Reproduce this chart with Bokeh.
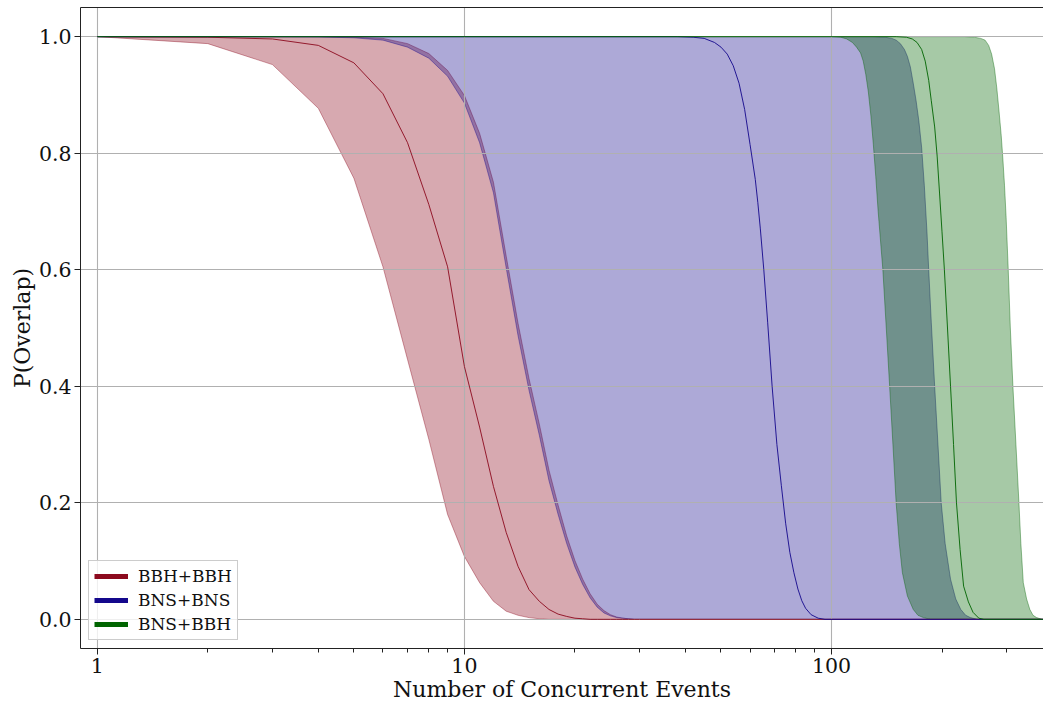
from bokeh.plotting import figure
from bokeh.models import (Range1d, FixedTicker, PrintfTickFormatter, LinearAxis,
                          Legend, LegendItem, ColumnDataSource)
from bokeh.embed import file_html
from bokeh.resources import INLINE

# ---- data -------------------------------------------------------------
# BBH+BBH (integer number of events)
bbh_x = list(range(1, 31)) + [400]
bbh_lo = [1.0, 0.988, 0.952, 0.877, 0.757, 0.605, 0.446, 0.309, 0.180, 0.108,
          0.063, 0.031, 0.014, 0.007, 0.003, 0.001, 0.0, 0.0, 0.0, 0.0,
          0.0, 0.0, 0.0, 0.0, 0.0, 0.0, 0.0, 0.0, 0.0, 0.0, 0.0]
bbh_med = [1.0, 0.999, 0.996, 0.985, 0.955, 0.902, 0.818, 0.712, 0.605, 0.434,
           0.330, 0.228, 0.149, 0.091, 0.051, 0.031, 0.017, 0.009, 0.005, 0.002,
           0.001, 0.0, 0.0, 0.0, 0.0, 0.0, 0.0, 0.0, 0.0, 0.0, 0.0]
bbh_hi = [1.0, 1.0, 1.0, 1.0, 0.999, 0.997, 0.988, 0.971, 0.942, 0.899,
          0.834, 0.750, 0.623, 0.508, 0.413, 0.335, 0.256, 0.196, 0.143, 0.101,
          0.069, 0.044, 0.026, 0.015, 0.008, 0.004, 0.002, 0.001, 0.0, 0.0, 0.0]

# BNS+BNS
bns_lo_x = list(range(1, 31)) + [400]
bns_lo = [1.0, 1.0, 1.0, 0.9995, 0.998, 0.994, 0.982, 0.963, 0.932, 0.886,
          0.818, 0.732, 0.603, 0.487, 0.393, 0.316, 0.238, 0.180, 0.130, 0.090,
          0.060, 0.037, 0.021, 0.011, 0.006, 0.003, 0.002, 0.001, 0.0, 0.0, 0.0]
bns_med_x = [1, 38, 42, 45, 48, 50, 52, 54, 56, 58, 60, 62, 63, 64, 65.4, 67,
             68.9, 71, 73, 75, 77, 79, 81, 83, 85, 88, 92, 96, 400]
bns_med = [1.0, 1.0, 0.999, 0.997, 0.990, 0.982, 0.970, 0.950, 0.920, 0.875,
           0.815, 0.755, 0.715, 0.670, 0.600, 0.510, 0.400, 0.300, 0.230, 0.165,
           0.115, 0.080, 0.052, 0.032, 0.019, 0.008, 0.002, 0.0, 0.0]
bns_hi_x = [1, 130, 140, 146, 150, 154, 158, 161, 164, 167, 170, 173, 176, 179,
            182, 184, 187, 191, 195, 199, 204, 211, 218, 225, 232, 239, 250, 400]
bns_hi = [1.0, 1.0, 0.999, 0.997, 0.994, 0.988, 0.978, 0.966, 0.948, 0.920,
          0.890, 0.855, 0.810, 0.745, 0.665, 0.600, 0.510, 0.400, 0.300, 0.200,
          0.130, 0.069, 0.035, 0.017, 0.007, 0.003, 0.0, 0.0]

# BNS+BBH
mix_lo_x = [1, 100, 106, 110, 114, 117, 120, 122, 124, 126, 128, 130, 132, 134,
            138, 141, 144, 147, 150, 153, 156, 161, 167, 172, 178, 186, 400]
mix_lo = [1.0, 1.0, 0.999, 0.996, 0.990, 0.982, 0.972, 0.958, 0.935, 0.905,
          0.865, 0.815, 0.760, 0.700, 0.600, 0.500, 0.400, 0.300, 0.200, 0.130,
          0.080, 0.040, 0.017, 0.007, 0.003, 0.0, 0.0]
mix_med_x = [1, 150, 160, 166, 171, 176, 180, 184, 187, 191, 194, 197, 200, 203,
             207, 211, 215, 219, 224, 229, 236, 243, 252, 260, 400]
mix_med = [1.0, 1.0, 0.999, 0.996, 0.990, 0.978, 0.958, 0.925, 0.890, 0.845,
           0.795, 0.730, 0.665, 0.600, 0.500, 0.400, 0.300, 0.200, 0.120, 0.057,
           0.030, 0.012, 0.002, 0.0, 0.0]
mix_hi_x = [1, 230, 245, 255, 262, 268, 273, 278, 282, 286, 290, 293, 296, 299,
            303, 307, 312, 318, 324, 328, 333, 340, 347, 354, 362, 375, 400]
mix_hi = [1.0, 1.0, 0.999, 0.997, 0.994, 0.985, 0.970, 0.945, 0.912, 0.872,
          0.830, 0.790, 0.745, 0.690, 0.600, 0.500, 0.400, 0.300, 0.200, 0.130,
          0.063, 0.035, 0.017, 0.007, 0.003, 0.0, 0.0]

labels = ["BBH+BBH", "BNS+BNS", "BNS+BBH"]
colors = ["#8c0a1e", "#14088c", "#006400"]

x_ticks = [1, 10, 100]
x_minor = [2, 3, 4, 5, 6, 7, 8, 9, 20, 30, 40, 50, 60, 70, 80, 90, 200, 300]
y_ticks = [0.0, 0.2, 0.4, 0.6, 0.8, 1.0]

SERIF = "'DejaVu Serif', serif"

# ---- figure -------------------------------------------------------------
p = figure(width=1043, height=706, x_axis_type="log",
           x_range=Range1d(0.9, 378), y_range=Range1d(-0.05, 1.05),
           output_backend="svg", toolbar_location=None,
           min_border_left=80, min_border_right=0, min_border_top=7,
           min_border_bottom=58)
p.outline_line_color = None
p.background_fill_color = "white"
p.border_fill_color = "white"

bands = [
    (bbh_x, bbh_lo, bbh_x, bbh_hi, bbh_x, bbh_med),
    (bns_lo_x, bns_lo, bns_hi_x, bns_hi, bns_med_x, bns_med),
    (mix_lo_x, mix_lo, mix_hi_x, mix_hi, mix_med_x, mix_med),
]

# shaded range of each population (below the grid)
for (lx, ly, hx, hy, mx, my), c in zip(bands, colors):
    px = list(lx) + list(reversed(hx))
    py = list(ly) + list(reversed(hy))
    r = p.patch(px, py, fill_color=c, fill_alpha=0.35, line_color=c,
                line_alpha=0.4, line_width=1)
    r.level = "image"

# median curves
for (lx, ly, hx, hy, mx, my), c in zip(bands, colors):
    p.line(mx, my, line_color=c, line_width=1, line_alpha=0.9)

# legend swatches (drawn outside the visible ranges)
items = []
for lab, c in zip(labels, colors):
    src = ColumnDataSource(dict(x=[0.5, 0.6], y=[5, 5]))
    r = p.line("x", "y", source=src, line_color=c, line_width=5)
    items.append(LegendItem(label=lab, renderers=[r]))

legend = Legend(items=items, location="bottom_left", margin=8,
                label_text_font=SERIF, label_text_font_size="17px",
                label_text_color="#111111",
                glyph_width=34, glyph_height=20, label_standoff=10,
                spacing=4, padding=5,
                border_line_color="#cccccc", border_line_alpha=1.0,
                background_fill_alpha=0.8)
p.add_layout(legend, "center")

# grid
p.xgrid.grid_line_color = "#b0b0b0"
p.ygrid.grid_line_color = "#b0b0b0"
p.xgrid.grid_line_width = 1.1
p.ygrid.grid_line_width = 1.1

# axes
xa = p.xaxis[0]
xa.ticker = FixedTicker(ticks=x_ticks, minor_ticks=x_minor)
xa.formatter = PrintfTickFormatter(format="%d")
xa.axis_label = "Number of Concurrent Events"
ya = p.yaxis[0]
ya.ticker = FixedTicker(ticks=y_ticks)
ya.formatter = PrintfTickFormatter(format="%.1f")
ya.axis_label = "P(Overlap)"

for ax in (xa, ya):
    ax.axis_line_color = "#222222"
    ax.axis_line_width = 1
    ax.major_tick_line_color = "#222222"
    ax.minor_tick_line_color = "#222222"
    ax.major_tick_in = 0
    ax.major_tick_out = 6
    ax.minor_tick_in = 0
    ax.minor_tick_out = 4
    ax.major_label_text_font = SERIF
    ax.major_label_text_font_size = "20.5px"
    ax.major_label_text_color = "#111111"
    ax.axis_label_text_font = SERIF
    ax.axis_label_text_font_style = "normal"
    ax.axis_label_text_font_size = "22px"
    ax.axis_label_text_color = "#111111"
    ax.major_label_standoff = 3
    ax.axis_label_standoff = 1

ya.minor_tick_line_color = None

# top spine
top = LinearAxis(ticker=FixedTicker(ticks=[]), axis_line_color="#222222",
                 axis_line_width=1, major_tick_line_color=None,
                 minor_tick_line_color=None, major_label_text_font_size="0px")
p.add_layout(top, "above")

open("out.html", "w").write(file_html(p, INLINE))
